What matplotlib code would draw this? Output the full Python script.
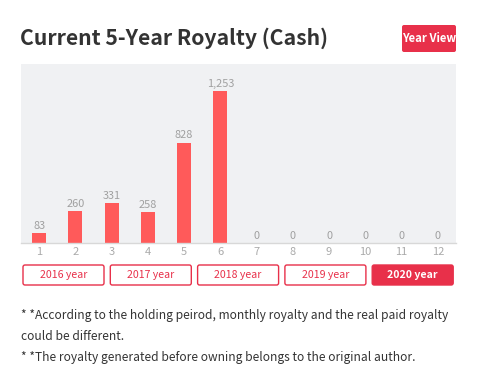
import matplotlib
matplotlib.use("Agg")
import matplotlib.pyplot as plt
from matplotlib.patches import FancyBboxPatch

plt.rcParams['font.family'] = ['Noto Sans CJK KR', 'DejaVu Sans']

months = ["1", "2", "3", "4", "5", "6", "7", "8", "9", "10", "11", "12"]
royalty = [83, 260, 331, 258, 828, 1253, 0, 0, 0, 0, 0, 0]
years = ["2016 year", "2017 year", "2018 year", "2019 year", "2020 year"]
active_year = "2020 year"
title = "Current 5-Year Royalty (Cash)"
notes = ["* *According to the holding peirod, monthly royalty and the real paid royalty",
         "could be different.",
         "* *The royalty generated before owning belongs to the original author."]

W, H = 478, 377
RED = "#e8304a"
BAR = "#ff5a5a"
fig = plt.figure(figsize=(W / 100, H / 100), dpi=100)

# chart axes
left, right, top, bottom = 21, 456, 64, 243
ax = fig.add_axes([left / W, (H - bottom) / H, (right - left) / W, (bottom - top) / H])
ax.set_facecolor("#f0f1f3")
x = list(range(len(months)))
ax.bar(x, royalty, width=0.39, color=BAR, zorder=2)
for xi, v in zip(x, royalty):
    ax.annotate(f"{v:,}", (xi, v), xytext=(0, 1.5), textcoords="offset points",
                ha="center", va="bottom", fontsize=7.9, color="#a0a0a0")
ax.set_xlim(-0.5, len(months) - 0.5)
ax.set_ylim(0, 1475)
ax.set_xticks(x)
ax.set_xticklabels(months)
ax.tick_params(axis="x", length=0, pad=3, labelsize=8.0, labelcolor="#aaaaaa")
ax.set_yticks([])
for s in ["top", "left", "right"]:
    ax.spines[s].set_visible(False)
ax.spines["bottom"].set_color("#d8d8d8")
ax.spines["bottom"].set_linewidth(1.0)

# overlay for title, buttons and notes
ov = fig.add_axes([0, 0, 1, 1], facecolor="none")
ov.set_xlim(0, W)
ov.set_ylim(H, 0)
ov.axis("off")

ov.text(20, 38, title, fontsize=15.25, fontweight="bold", color="#333333",
        ha="left", va="center")

# Year View button
ov.add_patch(FancyBboxPatch((402, 25), 54, 27, boxstyle="round,pad=0,rounding_size=2",
                            facecolor=RED, edgecolor=RED, lw=0))
ov.text(429, 39, "Year View", fontsize=8.2, fontweight="bold", color="white",
        ha="center", va="center")

# year buttons
bx0, bw, gap = 23, 81, 6.3
for i, yr in enumerate(years):
    bx = bx0 + i * (bw + gap)
    active = yr == active_year
    ov.add_patch(FancyBboxPatch((bx, 265), bw, 20, boxstyle="round,pad=0,rounding_size=2",
                                facecolor=RED if active else "white", edgecolor=RED, lw=1.0))
    ov.text(bx + bw / 2, 275.5, yr, fontsize=7.6, color="white" if active else RED,
            fontweight="bold" if active else "normal", ha="center", va="center")

# notes
for yy, line in zip([315, 336, 357], notes):
    ov.text(21, yy, line, fontsize=8.65, color="#333333", ha="left", va="center")

fig.savefig("out.png", dpi=100)
